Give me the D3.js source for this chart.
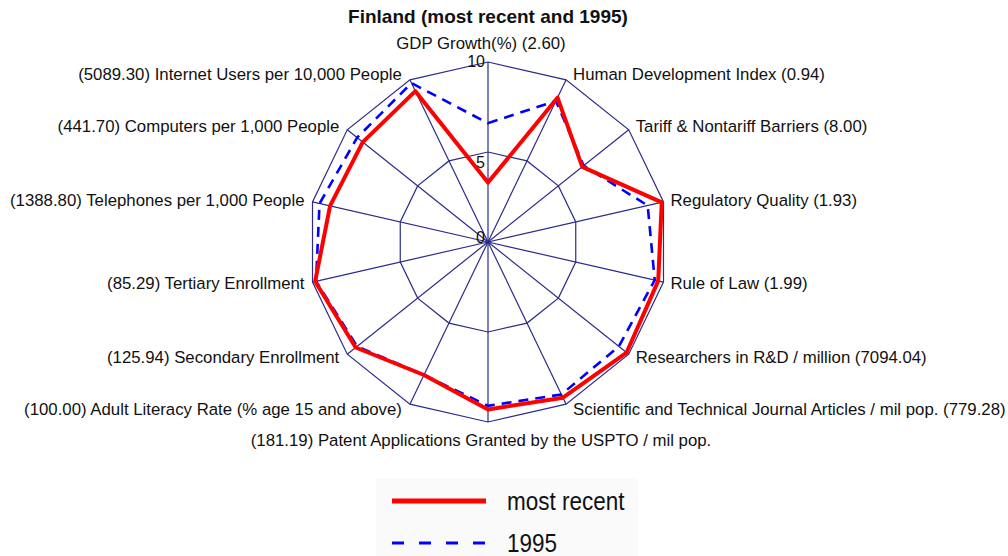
<!DOCTYPE html>
<html lang="en">
<head>
<meta charset="utf-8">
<title>Finland radar</title>
<script src="https://d3js.org/d3.v7.min.js"></script>
<style>
  body { margin: 0; background: #fff; }
  text { font-family: "Liberation Sans", Arial, sans-serif; fill: #111; }
  .grid { fill: none; stroke: #2b2b8c; stroke-width: 1.2px; }
  .recent { fill: none; stroke: #ff0000; stroke-width: 4px; stroke-linejoin: round; }
  .old { fill: none; stroke: #0000ff; stroke-width: 2.6px; stroke-dasharray: 10,7; }
</style>
</head>
<body>
<script>
// data
var axisLabels = [
  "GDP Growth(%) (2.60)",
  "Human Development Index (0.94)",
  "Tariff & Nontariff Barriers (8.00)",
  "Regulatory Quality (1.93)",
  "Rule of Law (1.99)",
  "Researchers in R&D / million (7094.04)",
  "Scientific and Technical Journal Articles / mil pop. (779.28)",
  "(181.19) Patent Applications Granted by the USPTO / mil pop.",
  "(100.00) Adult Literacy Rate (% age 15 and above)",
  "(125.94) Secondary Enrollment",
  "(85.29) Tertiary  Enrollment",
  "(1388.80) Telephones per 1,000 People",
  "(441.70) Computers per 1,000 People",
  "(5089.30) Internet Users per 10,000 People"
];
var mostRecent = [3.3, 8.9, 6.7, 9.9, 9.7, 9.85, 9.6, 9.3, 8.2, 9.4, 9.85, 9.0, 8.9, 9.3];
var year1995   = [6.6, 8.7, 6.8, 9.1, 9.5, 9.3, 9.4, 9.1, 8.2, 9.3, 9.8, 9.6, 9.3, 9.8];
var ringTicks = [0, 5, 10];
var seriesNames = ["most recent", "1995"];

var w = 1008, h = 556;
var cx = 488, cy = 242;

var svg = d3.select("body").append("svg")
    .attr("width", w)
    .attr("height", h);

svg.append("rect").attr("width", w).attr("height", h).attr("fill", "#fff");

// legend backdrop
svg.append("rect")
   .attr("x", 376).attr("y", 478).attr("width", 262).attr("height", 78)
   .attr("fill", "#fafafa");

var n = axisLabels.length;
var angle = d3.scaleLinear().domain([0, n]).range([0, 2 * Math.PI]);
var r = d3.scaleLinear().domain([0, 10]).range([0, 180]);

var g = svg.append("g").attr("transform", `translate(${cx},${cy})`);

// rings
var ringLine = d3.lineRadial()
    .angle((d, i) => angle(i))
    .radius(d => r(d))
    .curve(d3.curveLinearClosed);

ringTicks.filter(t => t > 0).forEach(function(t){
  g.append("path")
   .datum(d3.range(n).map(() => t))
   .attr("class", "grid")
   .attr("d", ringLine);
});

// spokes
g.selectAll("line.spoke")
 .data(d3.range(n))
 .enter().append("line")
 .attr("class", "grid")
 .attr("x1", 0).attr("y1", 0)
 .attr("x2", i => r(10) * Math.sin(angle(i)))
 .attr("y2", i => -r(10) * Math.cos(angle(i)));

// tick labels on the top spoke
g.selectAll("text.tick")
 .data(ringTicks)
 .enter().append("text")
 .attr("x", -3)
 .attr("y", d => -r(d))
 .attr("dy", d => d == 5 ? "1.0em" : (d == 0 ? "0.05em" : "0.3em"))
 .attr("text-anchor", "end")
 .attr("font-size", "16px")
 .text(d => d);

// series
var seriesLine = d3.lineRadial()
    .angle((d, i) => angle(i))
    .radius(d => r(d))
    .curve(d3.curveLinearClosed);

g.append("path").datum(year1995).attr("class", "old").attr("d", seriesLine);
g.append("path").datum(mostRecent).attr("class", "recent").attr("d", seriesLine);

// axis labels
g.selectAll("text.axlab")
 .data(axisLabels)
 .enter().append("text")
 .attr("font-size", "16.8px")
 .attr("dominant-baseline", "central")
 .attr("text-anchor", function(d, i){
   var s = Math.sin(angle(i));
   if (Math.abs(s) < 0.01) return "middle";
   return s > 0 ? "start" : "end";
 })
 .attr("x", function(d, i){
   var s = Math.sin(angle(i));
   var x = r(10) * s;
   if (Math.abs(s) < 0.01) return x - 7;
   return s > 0 ? x + 7 : x - 8;
 })
 .attr("y", function(d, i){
   var c = Math.cos(angle(i));
   var y = -r(10) * c;
   if (Math.abs(Math.sin(angle(i))) < 0.01) return c > 0 ? y - 19 : y + 18;
   return y - 6 * c;
 })
 .text(d => d);

// title
svg.append("text")
   .attr("x", cx).attr("y", 23)
   .attr("text-anchor", "middle")
   .attr("font-size", "19px")
   .attr("font-weight", "bold")
   .text("Finland (most recent and 1995)");

// legend
var legend = svg.append("g").attr("transform", "translate(392,0)");
var legendY = [501, 543];
seriesNames.forEach(function(name, i){
  legend.append("line")
     .attr("x1", 0).attr("x2", 94)
     .attr("y1", legendY[i]).attr("y2", legendY[i])
     .attr("stroke", i == 0 ? "#ff0000" : "#0000ff")
     .attr("stroke-width", i == 0 ? 5 : 3)
     .attr("stroke-dasharray", i == 0 ? null : "12,15");
  legend.append("text")
     .attr("transform", `translate(115,${legendY[i]}) scale(0.9,1)`)
     .attr("dominant-baseline", "central")
     .attr("font-size", "25px")
     .text(name);
});
</script>
</body>
</html>
